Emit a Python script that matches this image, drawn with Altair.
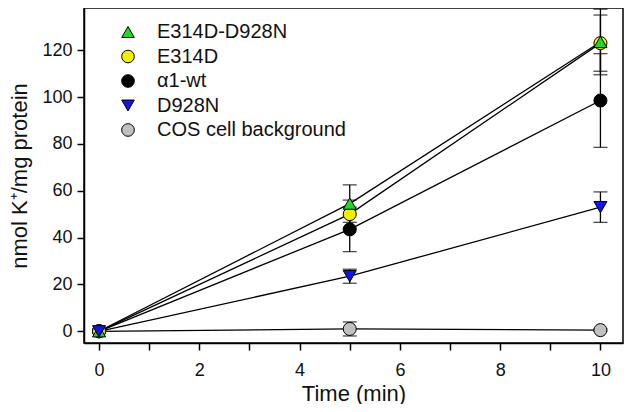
import altair as alt
import pandas as pd

times = [0, 5, 10]
series = ["E314D-D928N", "E314D", "α1-wt", "D928N", "COS cell background"]
draw_rank = [3, 2, 1, 4, 0]
values = {
    "E314D-D928N": [0, 54.5, 123.5],
    "E314D": [0, 50, 123],
    "α1-wt": [0, 43.5, 98.5],
    "D928N": [0, 23.5, 53],
    "COS cell background": [0, 1, 0.5],
}
errors = {
    "E314D-D928N": [0.5, 8, 14],
    "E314D": [0.5, 6, 12],
    "α1-wt": [0.5, 9.5, 20],
    "D928N": [0.5, 3, 6.5],
    "COS cell background": [0.5, 3, 0.5],
}
fills = ["#22d822", "#f2ee00", "#000000", "#1414e6", "#c0c0c0"]
outlines = ["#000000"] * 5
shapes = ["triangle-up", "circle", "circle", "triangle-down", "circle"]

rows = []
for s, r in zip(series, draw_rank):
    for t, v, e in zip(times, values[s], errors[s]):
        rows.append({"series": s, "rank": r, "time": t, "value": v, "lo": v - e, "hi": v + e})
df = pd.DataFrame(rows)

FONT = "Liberation Sans"
axis_common = dict(grid=False, tickSize=7, tickWidth=1.5, tickColor="black",
                   domainColor="black", domainWidth=1.5,
                   labelFont=FONT, titleFont=FONT, labelFontSize=18, titleFontSize=22,
                   titleFontWeight="normal", labelColor="#111", titleColor="#111")

x = alt.X("time:Q", scale=alt.Scale(domain=[-0.3, 10.45], nice=False, zero=False),
          axis=alt.Axis(title="Time (min)", values=list(range(0, 11)),
                        labelExpr="datum.value % 2 == 0 ? datum.label : ''",
                        labelPadding=11, titlePadding=4, **axis_common))
y = alt.Y("value:Q", scale=alt.Scale(domain=[-5, 138], nice=False, zero=False),
          axis=alt.Axis(title="nmol K⁺/mg protein", values=[0, 20, 40, 60, 80, 100, 120],
                        labelPadding=5, titlePadding=10, **axis_common))

base = alt.Chart(df)

lines = base.mark_line(color="black", strokeWidth=1.3).encode(
    x=x, y=y, detail="series:N", order="time:Q")

bars = base.mark_rule(color="black", strokeWidth=1.3).encode(
    x="time:Q", y="lo:Q", y2="hi:Q")
cap_lo = base.mark_tick(color="black", thickness=1.3, size=14, orient="horizontal").encode(
    x="time:Q", y="lo:Q")
cap_hi = base.mark_tick(color="black", thickness=1.3, size=14, orient="horizontal").encode(
    x="time:Q", y="hi:Q")

leg = alt.Legend(title=None, orient="none", legendX=34, legendY=14,
                 labelFont=FONT, labelFontSize=20, labelColor="#111", labelLimit=400,
                 symbolSize=160, symbolOpacity=1, symbolStrokeWidth=1,
                 rowPadding=4.5, labelOffset=19)

points = base.mark_point(filled=True, size=170, strokeWidth=1, opacity=1).encode(
    x="time:Q", y="value:Q",
    fill=alt.Fill("series:N", scale=alt.Scale(domain=series, range=fills), legend=leg),
    shape=alt.Shape("series:N", scale=alt.Scale(domain=series, range=shapes), legend=leg),
    stroke=alt.Stroke("series:N", scale=alt.Scale(domain=series, range=outlines), legend=leg),
    order=alt.Order("rank:Q"),
)

chart = (lines + bars + cap_lo + cap_hi + points).properties(
    width=617, height=396,
    autosize=alt.AutoSizeParams(type="fit", contains="padding"),
    padding={"left": 0, "top": 0, "right": 2, "bottom": 0},
).configure_view(
    stroke="black", strokeWidth=1.5
)

chart.save("out.html", embed_options={"renderer": "svg", "actions": False})
